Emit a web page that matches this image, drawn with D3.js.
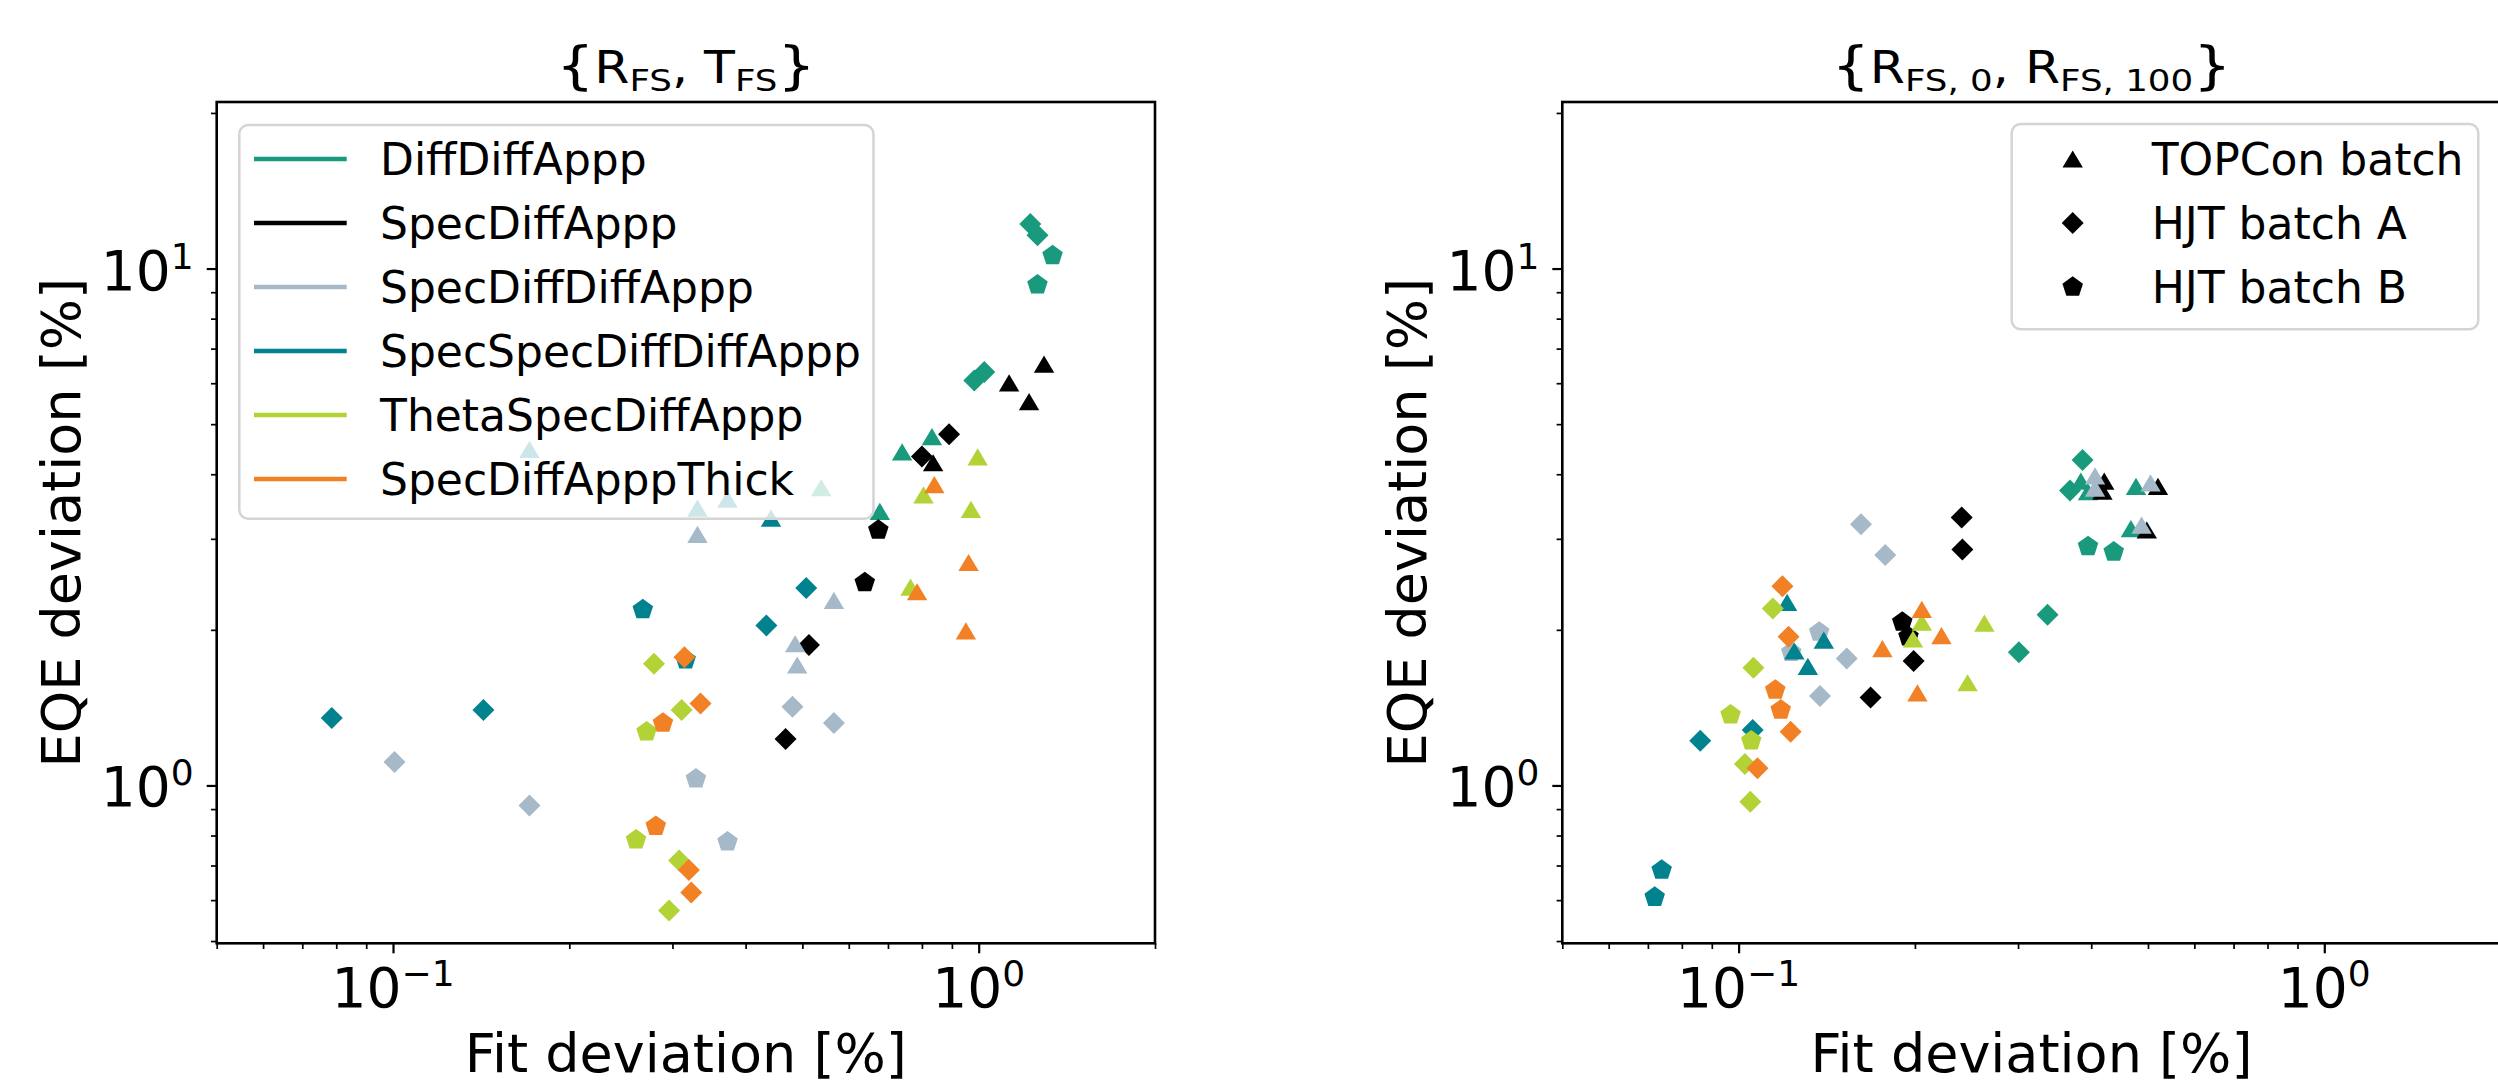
<!DOCTYPE html>
<html><head><meta charset="utf-8">
<script src="https://cdnjs.cloudflare.com/ajax/libs/d3/7.8.5/d3.min.js"></script>
<style>body{margin:0;background:#fff}svg{display:block;font-family:"DejaVu Sans",sans-serif}</style>
</head><body><svg id="chart" width="2498" height="1088"></svg>
<script>
// ---------------- data ----------------
const seriesNames = ["DiffDiffAppp","SpecDiffAppp","SpecDiffDiffAppp","SpecSpecDiffDiffAppp","ThetaSpecDiffAppp","SpecDiffApppThick"];
const seriesColors = ["#1a9a7c","#000000","#a5b9c8","#00838f","#b2d235","#f28024"];
const batchNames = ["TOPCon batch","HJT batch A","HJT batch B"];
const batchShapes = ["triangle","diamond","pentagon"];
const titleMain = [["R", "T"], ["R", "R"]];
const titleSubs = [["FS", "FS"], ["FS, 0", "FS, 100"]];
const xMajorTicks = [0.1, 1];
const yMajorTicks = [1, 10];
const xLabel = "Fit deviation [%]";
const yLabel = "EQE deviation [%]";

// [fit deviation %, EQE deviation %, batch index (0 TOPCon, 1 HJT A, 2 HJT B)]
// Panel 1: {R_FS, T_FS}
const p1_DiffDiffAppp = [[0.832,4.73,0],[0.740,4.42,0],[0.678,3.39,0],[0.5385,3.77,0],
  [1.225,12.2,1],[1.26,11.6,1],[0.983,6.07,1],[1.022,6.31,1],[1.337,10.6,2],[1.26,9.3,2]];
const p1_SpecDiffAppp = [[1.293,6.53,0],[1.127,6.01,0],[1.219,5.53,0],[0.836,4.21,0],
  [0.890,4.78,1],[0.800,4.33,1],[0.513,1.87,1],[0.468,1.23,1],[0.674,3.12,2],[0.639,2.47,2]];
const p1_SpecDiffDiffAppp = [[0.331,3.06,0],[0.566,2.28,0],[0.486,1.88,0],[0.490,1.71,0],
  [0.481,1.42,1],[0.566,1.32,1],[0.1006,1.11,1],[0.171,0.915,1],[0.329,1.03,2],[0.3725,0.778,2]];
const p1_SpecSpecDiffDiffAppp = [[0.171,4.47,0],[0.331,3.44,0],[0.3725,3.58,0],[0.442,3.29,0],
  [0.5076,2.41,1],[0.434,2.04,1],[0.1427,1.40,1],[0.0786,1.35,1],[0.267,2.19,2],[0.316,1.75,2]];
const p1_ThetaSpecDiffAppp = [[0.996,4.32,0],[0.805,3.65,0],[0.970,3.42,0],[0.765,2.42,0],
  [0.279,1.72,1],[0.311,1.40,1],[0.308,0.716,1],[0.296,0.573,1],[0.271,1.27,2],[0.260,0.785,2]];
const p1_SpecDiffApppThick = [[0.840,3.82,0],[0.785,2.37,0],[0.961,2.70,0],[0.951,1.99,0],
  [0.3145,1.77,1],[0.335,1.44,1],[0.320,0.686,1],[0.323,0.621,1],[0.289,1.32,2],[0.281,0.834,2]];

// Panel 2: {R_FS,0, R_FS,100}
const p2_DiffDiffAppp = [[0.384,3.88,0],[0.395,3.70,0],[0.477,3.79,0],[0.4675,3.14,0],
  [0.3866,4.26,1],[0.368,3.72,1],[0.3369,2.14,1],[0.301,1.81,1],[0.395,2.90,2],[0.437,2.83,2]];
const p2_SpecDiffAppp = [[0.421,3.88,0],[0.418,3.71,0],[0.52,3.79,0],[0.4977,3.12,0],
  [0.2404,3.30,1],[0.241,2.86,1],[0.199,1.74,1],[0.168,1.48,1],[0.1903,2.07,2],[0.195,1.94,2]];
const p2_SpecDiffDiffAppp = [[0.406,3.97,0],[0.406,3.76,0],[0.505,3.85,0],[0.4875,3.19,0],
  [0.1618,3.20,1],[0.178,2.79,1],[0.153,1.76,1],[0.1377,1.49,1],[0.1373,1.98,2],[0.123,1.81,2]];
const p2_SpecSpecDiffDiffAppp = [[0.121,2.26,0],[0.1398,1.91,0],[0.1245,1.82,0],[0.1313,1.70,0],
  [0.086,1.22,1],[0.1057,1.28,1],[0.0739,0.686,2],[0.0719,0.608,2]];
const p2_ThetaSpecDiffAppp = [[0.2055,2.07,0],[0.2628,2.06,0],[0.1985,1.92,0],[0.246,1.58,0],
  [0.1144,2.20,1],[0.106,1.69,1],[0.1025,1.10,1],[0.1047,0.93,1],[0.0969,1.37,2],[0.1051,1.22,2]];
const p2_SpecDiffApppThick = [[0.2055,2.19,0],[0.222,1.95,0],[0.176,1.84,0],[0.202,1.51,0],
  [0.1188,2.43,1],[0.1217,1.94,1],[0.1227,1.27,1],[0.1077,1.08,1],[0.1155,1.53,2],[0.118,1.40,2]];

const panel1 = [p1_DiffDiffAppp,p1_SpecDiffAppp,p1_SpecDiffDiffAppp,p1_SpecSpecDiffDiffAppp,p1_ThetaSpecDiffAppp,p1_SpecDiffApppThick];
const panel2 = [p2_DiffDiffAppp,p2_SpecDiffAppp,p2_SpecDiffDiffAppp,p2_SpecSpecDiffDiffAppp,p2_ThetaSpecDiffAppp,p2_SpecDiffApppThick];

// ---------------- layout ----------------
const svg = d3.select("#chart");
const W = 938.3, H = 841.3, TOP = 102;
const panelsX = [216.7, 1562.3];
const xDomain = [0.05, 2], yDomain = [0.495, 21];

// custom marker shapes (matplotlib-like)
const shapes = {
  triangle: { draw(c){ const w=10.2,h=8.6; c.moveTo(0,-h); c.lineTo(w,h); c.lineTo(-w,h); c.closePath(); } },
  diamond:  { draw(c){ const r=11; c.moveTo(0,-r); c.lineTo(r,0); c.lineTo(0,r); c.lineTo(-r,0); c.closePath(); } },
  pentagon: { draw(c){ const R=10.8; for(let i=0;i<5;i++){ const a=-Math.PI/2+i*2*Math.PI/5; const x=R*Math.cos(a), y=R*Math.sin(a); if(i===0) c.moveTo(x,y); else c.lineTo(x,y);} c.closePath(); } }
};
const symbolPath = name => d3.symbol().type(shapes[name])();

function drawPanel(idx, data) {
  const x0 = panelsX[idx];
  const g = svg.append("g");
  const x = d3.scaleLog().domain(xDomain).range([x0, x0 + W]);
  const y = d3.scaleLog().domain(yDomain).range([TOP + H, TOP]);

  const clipId = "clip" + idx;
  svg.append("clipPath").attr("id", clipId).append("rect")
    .attr("x", x0).attr("y", TOP).attr("width", W).attr("height", H);

  // markers
  const mg = g.append("g").attr("clip-path", `url(#${clipId})`);
  data.forEach((pts, si) => {
    mg.selectAll(null).data(pts).enter().append("path")
      .attr("d", d => symbolPath(batchShapes[d[2]]))
      .attr("transform", d => `translate(${x(d[0])},${y(d[1])})`)
      .attr("fill", seriesColors[si]);
  });

  // ticks
  const xMinor = [];
  [0.01, 0.1, 1].forEach(dec => { for (let k = 1; k <= 9; k++) { const v = dec * k; if (v >= xDomain[0]-1e-9 && v <= xDomain[1]+1e-9 && !xMajorTicks.some(m => Math.abs(m - v) < 1e-9)) xMinor.push(v); } });
  const yMinor = [0.5];
  [0.1, 1, 10].forEach(dec => { for (let k = 1; k <= 9; k++) { const v = dec * k; if (v > 0.55 && v <= yDomain[1]+1e-9 && !yMajorTicks.some(m => Math.abs(m - v) < 1e-9)) yMinor.push(v); } });

  const xAxisMinor = d3.axisBottom(x).tickValues(xMinor).tickSize(5.7).tickFormat("");
  const xAxisMajor = d3.axisBottom(x).tickValues(xMajorTicks).tickSize(10).tickFormat("");
  const yAxisMinor = d3.axisLeft(y).tickValues(yMinor).tickSize(5.7).tickFormat("");
  const yAxisMajor = d3.axisLeft(y).tickValues(yMajorTicks).tickSize(10).tickFormat("");
  [xAxisMinor, xAxisMajor].forEach((ax, i) => {
    const a = g.append("g").attr("transform", `translate(0,${TOP + H})`).call(ax);
    a.select(".domain").remove();
    a.selectAll(".tick line").attr("stroke", "#000").attr("stroke-width", i ? 2.2 : 1.7);
  });
  [yAxisMinor, yAxisMajor].forEach((ax, i) => {
    const a = g.append("g").attr("transform", `translate(${x0},0)`).call(ax);
    a.select(".domain").remove();
    a.selectAll(".tick line").attr("stroke", "#000").attr("stroke-width", i ? 2.2 : 1.7);
  });

  // tick labels 10^n
  const fmtExp = v => { const e = Math.round(Math.log10(v)); return e < 0 ? "\u2212" + (-e) : String(e); };
  xMajorTicks.forEach(v => {
    const t = g.append("text").attr("x", x(v)).attr("y", 1006.7).attr("text-anchor", "middle")
      .attr("font-size", 55).attr("fill", "#000");
    t.append("tspan").text("10");
    t.append("tspan").attr("font-size", 36).attr("dy", -21).text(fmtExp(v));
  });
  yMajorTicks.forEach(v => {
    const t = g.append("text").attr("x", x0 - 23).attr("y", y(v) + 21).attr("text-anchor", "end")
      .attr("font-size", 55).attr("fill", "#000");
    t.append("tspan").text("10");
    t.append("tspan").attr("font-size", 36).attr("dy", -21).text(fmtExp(v));
  });

  // spines
  g.append("rect").attr("x", x0).attr("y", TOP).attr("width", W).attr("height", H)
    .attr("fill", "none").attr("stroke", "#000").attr("stroke-width", 2.6);

  // axis labels
  g.append("text").attr("x", x0 + W / 2).attr("y", 1072).attr("text-anchor", "middle")
    .attr("font-size", 54).text(xLabel);
  g.append("text").attr("transform", `translate(${x0 - 136.7},${TOP + H / 2}) rotate(-90)`)
    .attr("text-anchor", "middle").attr("font-size", 54).text(yLabel);

  // title  {A_sub, B_sub}
  const tt = g.append("text").attr("transform", `translate(${x0 + W / 2},83) scale(1.15,1)`)
    .attr("text-anchor", "middle").attr("font-size", 44);
  tt.append("tspan").attr("font-size", 52).text("{");
  tt.append("tspan").text(titleMain[idx][0]);
  tt.append("tspan").attr("font-size", 31).attr("dy", 8).text(titleSubs[idx][0]);
  tt.append("tspan").attr("dy", -8).text(", " + titleMain[idx][1]);
  tt.append("tspan").attr("font-size", 31).attr("dy", 8).text(titleSubs[idx][1]);
  tt.append("tspan").attr("font-size", 52).attr("dy", -8).text("}");
  return g;
}

drawPanel(0, panel1);
drawPanel(1, panel2);

// legend 1 (series colours)
const lg1 = svg.append("g");
lg1.append("rect").attr("x", 239.3).attr("y", 125).attr("width", 634.2).attr("height", 393.7)
  .attr("rx", 9).attr("fill", "#fff").attr("fill-opacity", 0.8).attr("stroke", "#d4d4d4").attr("stroke-width", 2.5);
seriesNames.forEach((n, i) => {
  const yy = 159 + i * 64;
  lg1.append("line").attr("x1", 254).attr("x2", 346.7).attr("y1", yy).attr("y2", yy)
    .attr("stroke", seriesColors[i]).attr("stroke-width", 4.5);
  lg1.append("text").attr("x", 380).attr("y", yy + 16).attr("font-size", 44).text(n);
});

// legend 2 (batch markers)
const lg2 = svg.append("g");
lg2.append("rect").attr("x", 2011.7).attr("y", 124).attr("width", 466.6).attr("height", 205.3)
  .attr("rx", 9).attr("fill", "#fff").attr("fill-opacity", 0.8).attr("stroke", "#d4d4d4").attr("stroke-width", 2.5);
batchNames.forEach((n, i) => {
  const yy = 159 + i * 64;
  lg2.append("path").attr("d", symbolPath(batchShapes[i])).attr("transform", `translate(2072.7,${yy})`).attr("fill", "#000");
  lg2.append("text").attr("x", 2151.7).attr("y", yy + 16).attr("font-size", 44).text(n);
});
</script></body></html>
